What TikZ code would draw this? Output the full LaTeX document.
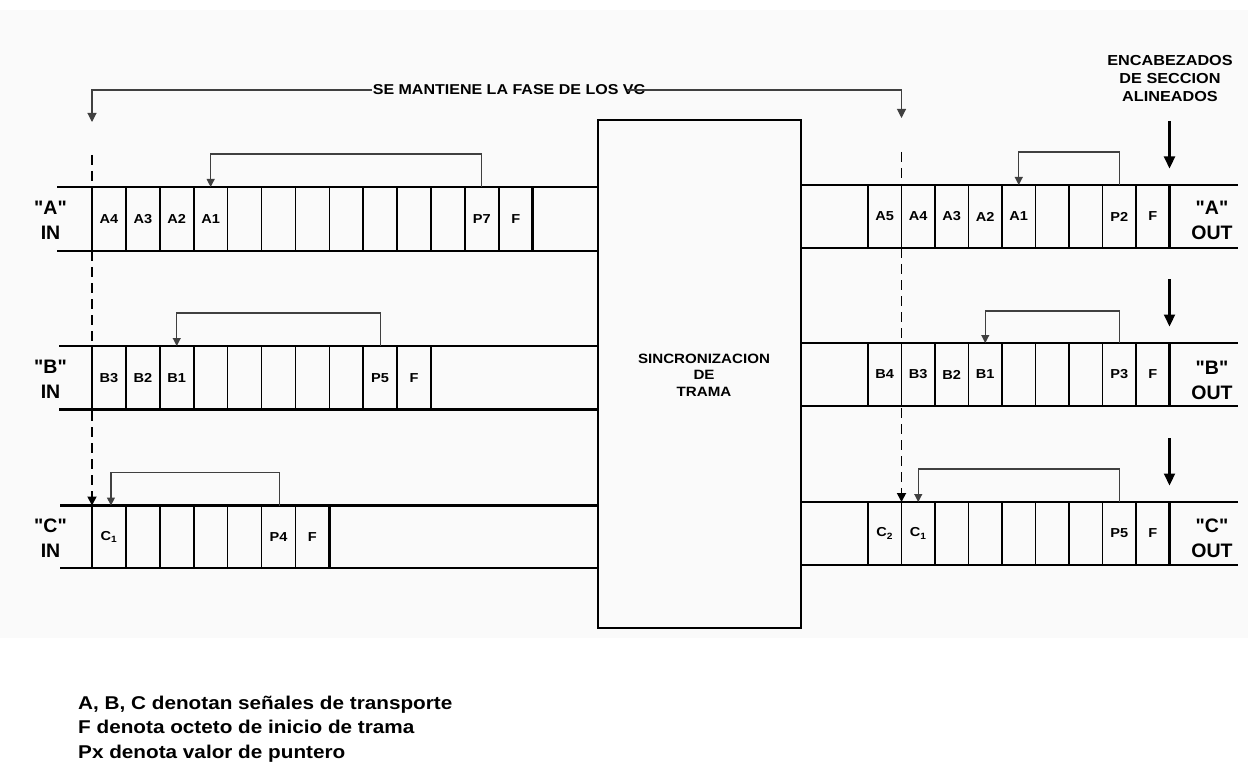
\documentclass[tikz,border=0pt]{standalone}
\usepackage{fontspec}
\setmainfont{Liberation Sans}
\newfontfamily\wide{Liberation Sans}[FakeStretch=1.12]
\newfontfamily\iofont{Liberation Sans}[Ligatures=TeXOff]
\usetikzlibrary{arrows.meta,calc}

\tikzset{
  rowline/.style={line width=2.2pt},
  divline/.style={line width=1.6pt},
  lastdiv/.style={line width=2.6pt},
  cell/.style={inner sep=0pt, outer sep=0pt, font=\wide\bfseries\fontsize{13}{14}\selectfont},
  ptr/.style={black!75, line width=1.1pt, -{Triangle[length=8pt,width=8pt]}},
  phasearr/.style={black!75, line width=1.1pt, -{Triangle[length=9pt,width=9pt]}},
  vcdash/.style={line width=1.8pt, dash pattern=on 10pt off 6pt, -{Triangle[length=9pt,width=9pt]}},
  encarr/.style={line width=2.2pt, -{Triangle[length=12pt,width=11pt]}},
  iolabel/.style={align=center, font=\iofont\bfseries\fontsize{19.5}{25}\selectfont, inner sep=0pt},
}

\newcommand\cellrow[7]{%
  \foreach \cl [count=\i from 0] in {#6} {
    \node[cell, minimum width=#3, minimum height={#5-#4}] (#1-\i) at ({#2+#3*(\i+0.5)},{(#4+#5)/2}) {\cl};
    \draw[divline] (#1-\i.north west) -- (#1-\i.south west);
  }
  \draw[lastdiv] (#1-#7.north east) -- (#1-#7.south east);
}

\begin{document}
\begin{tikzpicture}[x=1pt,y=-1pt]
\useasboundingbox (0,0) rectangle (1248,762);
\fill[black!2] (0,10) rectangle (1248,638);

% central box
\node[draw, line width=2.6pt, minimum width=203pt, minimum height=508pt, inner sep=0pt] (sync) at (699.5,374) {};
\node[align=center, inner sep=0pt, font=\wide\bfseries\fontsize{13.5}{16.5}\selectfont] (synctext) at (704,375) {SINCRONIZACION\\DE\\TRAMA};

% input rows
\cellrow{LA}{92}{33.9}{187}{251}{A4,A3,A2,A1,{},{},{},{},{},{},{},P7,F}{12}
\cellrow{LB}{92}{33.9}{346}{409.5}{B3,B2,B1,{},{},{},{},{},P5,F}{9}
\cellrow{LC}{92}{33.9}{505.5}{568}{C\textsubscript{1},{},{},{},{},P4,F}{6}

% output rows
\cellrow{RA}{868}{33.5}{185}{248}{A5,A4,A3,A2,A1,{},{},P2,F}{8}
\cellrow{RB}{868}{33.5}{343}{406}{B4,B3,B2,B1,{},{},{},P3,F}{8}
\cellrow{RC}{868}{33.5}{502}{565}{C\textsubscript{2},C\textsubscript{1},{},{},{},{},{},P5,F}{8}

% row borders
\foreach \r/\x in {LA/57,LB/59,LC/60} {
  \draw[rowline] (\x,0 |- \r-0.north) -- (\r-0.north -| sync.west);
  \draw[rowline] (\x,0 |- \r-0.south) -- (\r-0.south -| sync.west);
}
\foreach \r in {RA,RB,RC} {
  \draw[rowline] (\r-0.north -| sync.east) -- (1238,0 |- \r-0.north);
  \draw[rowline] (\r-0.south -| sync.east) -- (1238,0 |- \r-0.south);
}

% pointers
\draw[ptr] (LA-11.north) -- ++(0,-33) -| (LA-3.north);
\draw[ptr] (LB-8.north) -- ++(0,-33) -| (LB-2.north);
\draw[ptr] ($(LC-5.north)+(1,0)$) -- ++(0,-33) -| ($(LC-0.north)+(2,0)$);
\draw[ptr] (RA-7.north) -- ++(0,-33) -| (RA-4.north);
\draw[ptr] (RB-7.north) -- ++(0,-32) -| (RB-3.north);
\draw[ptr] (RC-7.north) -- ++(0,-33) -| (RC-1.north);

% phase label and arrows
\node[font=\wide\bfseries\fontsize{14.3}{16}\selectfont, inner sep=1pt] (phase) at (509,90) {SE MANTIENE LA FASE DE LOS VC};
\coordinate (ltip) at (LA-0.north west |- 0,122);
\coordinate (rtip) at (RA-1.north west |- 0,118);
\draw[phasearr] (phase.west) -| (ltip);
\draw[phasearr] ($(phase.east)+(-19,0)$) -| (rtip);

% dashed phase lines
\coordinate (ldash) at (LA-0.north west |- 0,155);
\coordinate (rdash) at (RA-1.north west |- 0,152);
\draw[vcdash] (ldash) -- (LC-0.north west);
\draw[vcdash] (rdash) -- (RC-1.north west);

% aligned section headers
\node[font=\wide\bfseries\fontsize{14.5}{18}\selectfont, align=center, inner sep=0pt] (enc) at (1170,79) {ENCABEZADOS\\DE SECCION\\ALINEADOS};
\foreach \r in {RA,RB,RC} {
  \draw[encarr] ($(\r-8.north east)+(0,-64)$) -- ($(\r-8.north east)+(0,-16.5)$);
}

% in / out labels
\node[iolabel] (inA) at (50.5,220) {"A"\\IN};
\node[iolabel] (inB) at (50.5,379.5) {"B"\\IN};
\node[iolabel] (inC) at (50.5,538.3) {"C"\\IN};
\node[iolabel] (outA) at (1212,220) {"A"\\OUT};
\node[iolabel] (outB) at (1212,380.5) {"B"\\OUT};
\node[iolabel] (outC) at (1212,538.3) {"C"\\OUT};

% legend
\node[anchor=west, align=left, inner sep=0pt, font=\wide\bfseries\fontsize{18.5}{24.5}\selectfont] (legend) at (78,729) {A, B, C denotan señales de transporte\\F denota octeto de inicio de trama\\Px denota valor de puntero};
\end{tikzpicture}
\end{document}
